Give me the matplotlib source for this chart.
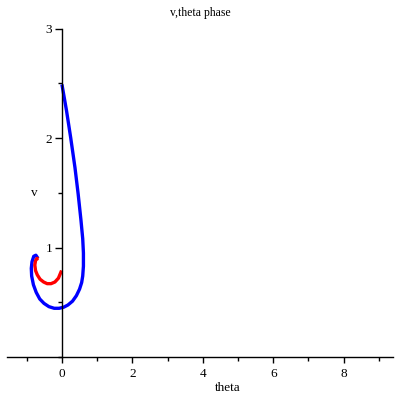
import matplotlib
matplotlib.use("Agg")
import matplotlib.pyplot as plt
from matplotlib.ticker import MultipleLocator

# blue trajectory (theta, v)
blue_theta = [0.0, 0.13, 0.25, 0.37, 0.46, 0.54, 0.59, 0.61, 0.61, 0.59, 0.56, 0.50,
              0.41, 0.30, 0.17, 0.05, -0.08, -0.22, -0.37, -0.51, -0.63, -0.73,
              -0.81, -0.86, -0.87, -0.85, -0.80, -0.74, -0.68]
blue_v = [2.49, 2.25, 2.0, 1.73, 1.49, 1.25, 1.08, 0.95, 0.83, 0.74, 0.68, 0.62,
          0.56, 0.51, 0.475, 0.455, 0.445, 0.445, 0.46, 0.49, 0.53, 0.59,
          0.66, 0.74, 0.81, 0.87, 0.92, 0.93, 0.90]

# red trajectory (theta, v)
red_theta = [-0.66, -0.71, -0.75, -0.77, -0.75, -0.70, -0.62, -0.52, -0.42, -0.31,
             -0.20, -0.10, -0.01]
red_v = [0.90, 0.90, 0.88, 0.84, 0.79, 0.75, 0.71, 0.685, 0.67, 0.67,
         0.685, 0.72, 0.79]

plt.rcParams['font.family'] = ['Liberation Serif', 'DejaVu Serif']

fig = plt.figure(figsize=(4, 4), dpi=100)
ax = fig.add_axes([0.0175, 0.1075, 0.965, 0.821])

ax.plot(blue_theta, blue_v, color='#0000ff', lw=2.4, solid_capstyle='butt')
ax.plot(red_theta, red_v, color='#ff0000', lw=2.4, solid_capstyle='butt')

ax.set_xlim(-1.56, 9.4)
ax.set_ylim(0, 3)

ax.spines['left'].set_position(('data', 0))
ax.spines['bottom'].set_position(('data', 0))
ax.spines['top'].set_visible(False)
ax.spines['right'].set_visible(False)
for s in ('left', 'bottom'):
    ax.spines[s].set_linewidth(1.0)

ax.xaxis.set_major_locator(MultipleLocator(2))
ax.xaxis.set_minor_locator(MultipleLocator(1))
ax.yaxis.set_major_locator(MultipleLocator(1))
ax.yaxis.set_minor_locator(MultipleLocator(0.5))
ax.set_yticks([1, 2, 3])
ax.set_yticklabels(['1', '2', '3'])
ax.tick_params(axis='x', which='major', length=4, width=1, labelsize=9.5, pad=4)
ax.tick_params(axis='x', which='minor', length=3, width=1)
ax.tick_params(axis='y', which='major', length=5, width=1, labelsize=9.5, pad=2)
ax.tick_params(axis='y', which='minor', length=3, width=1)

fig.text(0.5, 0.968, 'v,theta phase', ha='center', va='center', fontsize=8.5)
fig.text(0.085, 0.518, 'v', ha='center', va='center', fontsize=9.5)
fig.text(0.57, 0.03, 'theta', ha='center', va='center', fontsize=9.5)

fig.savefig('out.png', dpi=100)
